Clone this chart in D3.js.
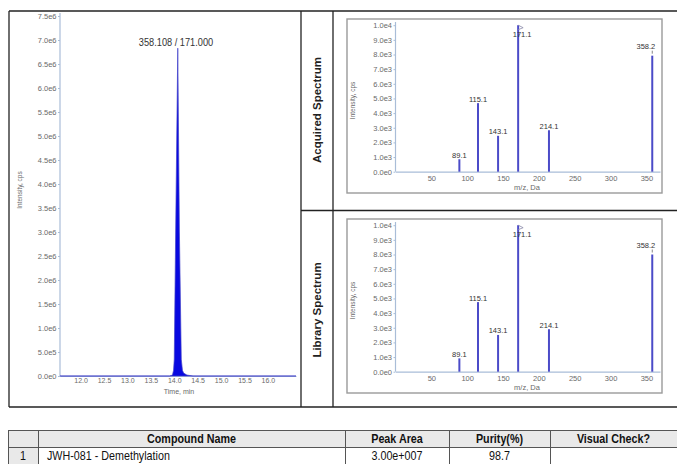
<!DOCTYPE html>
<html><head><meta charset="utf-8">
<script src="https://cdn.jsdelivr.net/npm/d3@7"></script>
<style>
html,body{margin:0;padding:0;background:#fff;}
svg{display:block;}
text{font-family:"Liberation Sans",Arial,sans-serif;}
</style></head>
<body>
<script>
// ---------- DATA ----------
const chromTime      = [11.56, 13.90, 13.962, 13.985, 14.00, 14.03, 14.075, 14.11, 14.15, 14.175, 14.20, 14.27, 14.40, 16.60];
const chromIntensity = [0, 0, 0.02e6, 0.12e6, 0.35e6, 3.0e6, 6.83e6, 3.0e6, 0.35e6, 0.12e6, 0.06e6, 0.02e6, 0, 0];
const chromLabel = "358.108 / 171.000";
const chromXTicks = [12.0, 12.5, 13.0, 13.5, 14.0, 14.5, 15.0, 15.5, 16.0];
const chromYTicks = [0, 0.5e6, 1.0e6, 1.5e6, 2.0e6, 2.5e6, 3.0e6, 3.5e6, 4.0e6, 4.5e6, 5.0e6, 5.5e6, 6.0e6, 6.5e6, 7.0e6, 7.5e6];

const specMz            = [89.1, 115.1, 143.1, 171.1, 214.1, 358.2];
const acquiredIntensity = [850, 4680, 2450, 10000, 2830, 7920];
const libraryIntensity  = [910, 4750, 2510, 10000, 2900, 8000];
const specXTicks = [50, 100, 150, 200, 250, 300, 350];
const specYTicks = [0, 1000, 2000, 3000, 4000, 5000, 6000, 7000, 8000, 9000, 10000];

const panelTitles = ["Acquired Spectrum", "Library Spectrum"];
const tableHeaders = ["", "Compound Name", "Peak Area", "Purity(%)", "Visual Check?"];
const tableRow = ["1", "JWH-081 - Demethylation", "3.00e+007", "98.7", ""];

// ---------- SETUP ----------
const W = 677, H = 464;
const svg = d3.select("body").append("svg").attr("width", W).attr("height", H);
svg.append("rect").attr("width", W).attr("height", H).attr("fill", "#fff");

const expFmt = d => d3.format(".1e")(d).replace("+", "");
const axisColor = "#a9bdd8";
const labColor = "#6a6a6a";

function styleAxis(g, fs) {
  g.select(".domain").attr("stroke", axisColor).attr("stroke-width", 1.2);
  g.selectAll(".tick line").attr("stroke", axisColor);
  g.selectAll(".tick text").attr("fill", labColor).style("font-size", (fs || 7.5) + "px")
    .style("font-family", '"Liberation Sans",Arial,sans-serif');
}

// ---------- FRAME ----------
const frame = svg.append("g").attr("stroke", "#222").attr("stroke-width", 1.3).attr("fill", "none");
frame.append("line").attr("x1", 9).attr("x2", W).attr("y1", 11).attr("y2", 11);
frame.append("line").attr("x1", 9).attr("x2", W).attr("y1", 407).attr("y2", 407);
frame.append("line").attr("x1", 9).attr("x2", 9).attr("y1", 11).attr("y2", 407);
frame.append("line").attr("x1", 301).attr("x2", 301).attr("y1", 11).attr("y2", 407);
frame.append("line").attr("x1", 333).attr("x2", 333).attr("y1", 11).attr("y2", 407);
frame.append("line").attr("x1", 301).attr("x2", W).attr("y1", 210.5).attr("y2", 210.5);

// ---------- CHROMATOGRAM ----------
const cx = d3.scaleLinear().domain([11.56, 16.6]).range([60, 296]);
const cy = d3.scaleLinear().domain([0, 7.5e6]).range([376, 16]);
const chromData = chromTime.map((t, i) => ({t, v: chromIntensity[i]}));

const gcy = svg.append("g").attr("transform", "translate(60,0)")
  .call(d3.axisLeft(cy).tickValues(chromYTicks).tickFormat(expFmt).tickSize(2).tickPadding(1.5));
styleAxis(gcy);
gcy.select(".domain").attr("d", `M0,13V${cy(0)}`);
const gcx = svg.append("g").attr("transform", `translate(0,${cy(0)})`)
  .call(d3.axisBottom(cx).tickValues(chromXTicks).tickFormat(d3.format(".1f")).tickSize(0).tickPadding(2.5));
styleAxis(gcx, 7);

svg.append("path").datum(chromData)
  .attr("d", d3.area().x(d => cx(d.t)).y0(cy(0)).y1(d => cy(d.v)))
  .attr("fill", "#0808e0").attr("stroke", "#4444c8").attr("stroke-width", 0.7);

svg.append("text").attr("x", 176).attr("y", 46).attr("text-anchor", "middle")
  .attr("fill", "#333").style("font-size", "11px")
  .attr("transform", "translate(176,0) scale(0.84,1) translate(-176,0)")
  .text(chromLabel);
svg.append("text").attr("transform", `translate(22,${(cy(0)+cy(7.5e6))/2 - 6}) rotate(-90)`)
  .attr("text-anchor", "middle").attr("fill", labColor).style("font-size", "6.5px").text("Intensity, cps");
svg.append("text").attr("x", 179).attr("y", 394).attr("text-anchor", "middle")
  .attr("fill", labColor).style("font-size", "7px").text("Time, min");

// ---------- SPECTRA ----------
function drawSpectrum(offY, values, title) {
  const box = {x: 347, y: 19 + offY, w: 315, h: 174};
  svg.append("rect").attr("x", box.x).attr("y", box.y).attr("width", box.w).attr("height", box.h)
    .attr("fill", "#fff").attr("stroke", "#9a9a9a").attr("stroke-width", 1.4);
  const sx = d3.scaleLinear().domain([0, 369]).range([395.5, 660]);
  const sy = d3.scaleLinear().domain([0, 10000]).range([171.7 + offY, 25.2 + offY]);

  const gy = svg.append("g").attr("transform", "translate(395.5,0)")
    .call(d3.axisLeft(sy).tickValues(specYTicks).tickFormat(expFmt).tickSize(2).tickPadding(1.5));
  styleAxis(gy);
  gy.select(".domain").attr("d", `M0,${22 + offY}V${sy(0)}`);
  const gx = svg.append("g").attr("transform", `translate(0,${sy(0)})`)
    .call(d3.axisBottom(sx).tickValues(specXTicks).tickSize(0).tickPadding(4));
  styleAxis(gx);

  const data = specMz.map((m, i) => ({m, v: values[i]}));
  const maxV = d3.max(values);
  svg.append("g").selectAll("line").data(data).join("line")
    .attr("x1", d => sx(d.m)).attr("x2", d => sx(d.m))
    .attr("y1", sy(0)).attr("y2", d => sy(d.v))
    .attr("stroke", "#4b4bc8").attr("stroke-width", 2);

  const lab = svg.append("g").attr("fill", "#333").style("font-size", "7.5px");
  data.forEach((d, i) => {
    const x = sx(d.m), y = sy(d.v);
    if (d.v === maxV) {
      lab.append("text").attr("x", x + 4).attr("y", y + 11.5).attr("text-anchor", "middle").text(d3.format(".1f")(d.m));
      svg.append("path").attr("d", `M${x},${y}L${x+5},${y+2.5}L${x},${y+4.5}`)
        .attr("fill", "none").attr("stroke", "#8a8aa8").attr("stroke-width", 0.8);
    } else if (i === data.length - 1) {
      lab.append("text").attr("x", x + 3).attr("y", y - 7).attr("text-anchor", "end").text(d3.format(".1f")(d.m));
      svg.append("line").attr("x1", x).attr("x2", x).attr("y1", y - 5).attr("y2", y - 2)
        .attr("stroke", "#666").attr("stroke-width", 0.8);
    } else {
      lab.append("text").attr("x", x).attr("y", y - 1.5).attr("text-anchor", "middle").text(d3.format(".1f")(d.m));
    }
  });

  svg.append("text").attr("transform", `translate(355,${(sy(0)+sy(10000))/2 + 2}) rotate(-90)`)
    .attr("text-anchor", "middle").attr("fill", labColor).style("font-size", "6.5px").text("Intensity, cps");
  svg.append("text").attr("x", 527).attr("y", 190 + offY).attr("text-anchor", "middle")
    .attr("fill", labColor).style("font-size", "7.5px").text("m/z, Da");

  svg.append("text").attr("transform", `translate(321,${110 + offY}) rotate(-90)`)
    .attr("text-anchor", "middle").attr("fill", "#222").style("font-size", "11.5px")
    .style("font-weight", "bold").text(title);
}
drawSpectrum(0, acquiredIntensity, panelTitles[0]);
drawSpectrum(200, libraryIntensity, panelTitles[1]);

// ---------- TABLE ----------
const colX = [8, 38, 345, 449, 550, 677];
const rowY = [430, 447, 464];
const tg = svg.append("g");
tg.append("rect").attr("x", colX[0]).attr("y", rowY[0]).attr("width", W - colX[0]).attr("height", rowY[1] - rowY[0]).attr("fill", "#e9e9e9");
tg.append("rect").attr("x", colX[0]).attr("y", rowY[1]).attr("width", colX[1] - colX[0]).attr("height", rowY[2] - rowY[1]).attr("fill", "#e9e9e9");
const tl = tg.append("g").attr("stroke", "#555").attr("stroke-width", 1);
rowY.forEach(y => tl.append("line").attr("x1", colX[0]).attr("x2", W).attr("y1", y + 0.5).attr("y2", y + 0.5));
colX.slice(0, 5).forEach(x => tl.append("line").attr("x1", x + 0.5).attr("x2", x + 0.5).attr("y1", rowY[0]).attr("y2", rowY[2]));

function cellText(txt, col, row, bold) {
  if (!txt) return;
  const left = col === 1 && row === 1;
  const x = left ? colX[1] + 9 : (colX[col] + colX[col + 1]) / 2;
  const y = (rowY[row] + rowY[row + 1]) / 2 + 4.5;
  tg.append("text").attr("x", x).attr("y", y)
    .attr("text-anchor", left ? "start" : "middle")
    .attr("transform", `translate(${x},0) scale(0.86,1) translate(${-x},0)`)
    .attr("fill", "#111").style("font-size", "12.5px").style("font-weight", bold ? "bold" : "normal")
    .text(txt);
}
tableHeaders.forEach((h, i) => cellText(h, i, 0, true));
tableRow.forEach((v, i) => cellText(v, i, 1, false));
</script>
</body></html>
